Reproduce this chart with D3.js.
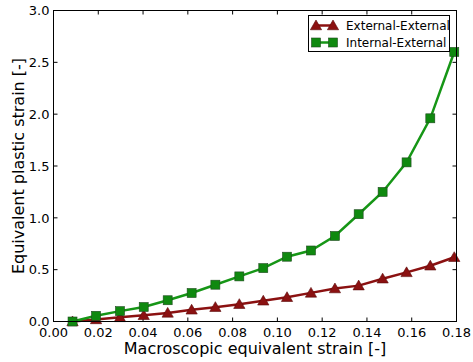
<!DOCTYPE html>
<html><head><meta charset="utf-8">
<script src="https://cdn.jsdelivr.net/npm/d3@7"></script>
<style>body{margin:0;background:#fff}text{font-family:"DejaVu Sans",sans-serif;fill:#000}</style>
</head><body>
<svg id="c" width="473" height="362"></svg>
<script>
const strain = [0.0085,0.019,0.0297,0.0403,0.051,0.0617,0.0723,0.083,0.0937,0.1043,0.115,0.1257,0.1363,0.147,0.1577,0.1683,0.179];
const externalExternal = [0.0,0.02,0.04,0.06,0.083,0.113,0.138,0.167,0.2,0.234,0.276,0.318,0.346,0.413,0.474,0.538,0.62];
const internalExternal = [0.0,0.055,0.1,0.14,0.205,0.275,0.355,0.435,0.515,0.625,0.685,0.825,1.035,1.25,1.535,1.96,2.6];
const xTicks = [0,0.02,0.04,0.06,0.08,0.1,0.12,0.14,0.16,0.18];
const yTicks = [0,0.5,1,1.5,2,2.5,3];
const seriesNames = ["External-External","Internal-External"];

const svg = d3.select("#c");
const L=53.5,R=456.5,T=10.5,B=321.5;
const x = d3.scaleLinear().domain([0,0.18]).range([L,R]);
const y = d3.scaleLinear().domain([0,3]).range([B,T]);

const g = svg.append("g");
const tl=4;
xTicks.forEach(v=>{
  g.append("line").attr("x1",x(v)).attr("x2",x(v)).attr("y1",B).attr("y2",B-tl).attr("stroke","#000");
  g.append("line").attr("x1",x(v)).attr("x2",x(v)).attr("y1",T).attr("y2",T+tl).attr("stroke","#000");
  g.append("text").attr("x",x(v)).attr("y",337).attr("text-anchor","middle").attr("font-size",13).text(d3.format(".2f")(v));
});
yTicks.forEach(v=>{
  g.append("line").attr("x1",L).attr("x2",L+tl).attr("y1",y(v)).attr("y2",y(v)).attr("stroke","#000");
  g.append("line").attr("x1",R).attr("x2",R-tl).attr("y1",y(v)).attr("y2",y(v)).attr("stroke","#000");
  g.append("text").attr("x",49.5).attr("y",y(v)+4.8).attr("text-anchor","end").attr("font-size",13).text(d3.format(".1f")(v));
});

const line = d3.line().x(d=>x(d[0])).y(d=>y(d[1]));
const redC="#8b1111", redE="#5a0a0a", grnC="#0f890f", grnE="#1f4a1f", grnL="#169616";
const tri = d3.symbol().type(d3.symbolTriangle).size(55);

const plot = svg.append("g");
const dR = strain.map((s,i)=>[s,externalExternal[i]]);
const dG = strain.map((s,i)=>[s,internalExternal[i]]);
plot.append("path").attr("d",line(dR)).attr("fill","none").attr("stroke",redC).attr("stroke-width",2.5);
plot.selectAll(".t").data(dR).enter().append("path").attr("d",tri())
  .attr("transform",d=>`translate(${x(d[0])},${y(d[1])+1})`).attr("fill",redC).attr("stroke",redE).attr("stroke-width",0.6);
plot.append("path").attr("d",line(dG)).attr("fill","none").attr("stroke",grnL).attr("stroke-width",2.5);
const sq=9;
plot.selectAll(".s").data(dG).enter().append("rect")
  .attr("x",d=>x(d[0])-sq/2).attr("y",d=>y(d[1])-sq/2).attr("width",sq).attr("height",sq)
  .attr("fill",grnC).attr("stroke",grnE).attr("stroke-width",0.6);

svg.append("rect").attr("x",L).attr("y",T).attr("width",R-L).attr("height",B-T).attr("fill","none").attr("stroke","#000").attr("stroke-width",1);

const lg = svg.append("g");
lg.append("rect").attr("x",308.5).attr("y",15.5).attr("width",141).attr("height",36).attr("fill","#fff").attr("stroke","#000");
const rows=[{n:seriesNames[0],c:redC,e:redE,lc:redC,t:"tri",yy:25.5},{n:seriesNames[1],c:grnC,e:grnE,lc:grnL,t:"sq",yy:42.5}];
rows.forEach(r=>{
  lg.append("line").attr("x1",316).attr("x2",333).attr("y1",r.yy).attr("y2",r.yy).attr("stroke",r.lc).attr("stroke-width",2.5);
  [316,333].forEach(cx=>{
    if(r.t==="tri") lg.append("path").attr("d",tri()).attr("transform",`translate(${cx},${r.yy+1})`).attr("fill",r.c).attr("stroke",r.e).attr("stroke-width",0.6);
    else lg.append("rect").attr("x",cx-sq/2).attr("y",r.yy-sq/2).attr("width",sq).attr("height",sq).attr("fill",r.c).attr("stroke",r.e).attr("stroke-width",0.6);
  });
  lg.append("text").attr("x",346).attr("y",r.yy+4.5).attr("font-size",12).text(r.n);
});

svg.append("text").attr("x",(L+R)/2).attr("y",354).attr("text-anchor","middle").attr("font-size",16).text("Macroscopic equivalent strain [-]");
svg.append("text").attr("transform",`translate(24,${(T+B)/2}) rotate(-90)`).attr("text-anchor","middle").attr("font-size",16).text("Equivalent plastic strain [-]");
</script>
</body></html>
